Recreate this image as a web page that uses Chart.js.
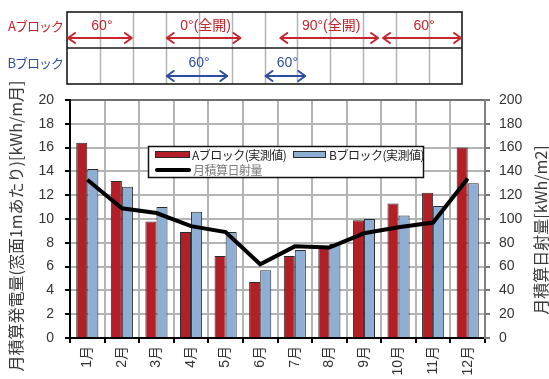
<!DOCTYPE html>
<html>
<head>
<meta charset="utf-8">
<script src="https://cdn.jsdelivr.net/npm/chart.js@4.4.0/dist/chart.umd.min.js"></script>
<style>
  html, body { margin: 0; padding: 0; background: #ffffff; }
  #wrap { width: 549px; height: 379px; }
</style>
</head>
<body>
<div id="wrap"><canvas id="c" width="549" height="379"></canvas></div>
<script>
// Monthly categories
const months = ['1月', '2月', '3月', '4月', '5月', '6月', '7月', '8月', '9月', '10月', '11月', '12月'];

// Monthly generated energy per 1 m of window [kWh/m月]
const blockA = [16.4, 13.2, 9.8, 8.9, 6.9, 4.7, 6.9, 7.6, 9.9, 11.3, 12.2, 16.0];
const blockB = [14.2, 12.7, 11.0, 10.6, 8.9, 5.7, 7.4, 7.9, 10.0, 10.3, 11.1, 13.0];

// Monthly integrated solar irradiation [kWh/m2]
const irradiation = [133, 109, 105, 94, 89, 62, 77, 76, 88, 93, 97, 134];

// Axis ranges
const leftAxis = { min: 0, max: 20, step: 2 };
const rightAxis = { min: 0, max: 200, step: 20 };

// Louver angle periods (month index from .. to) for each block
const periodsA = [
  { from: 0, to: 2, label: '60°' },
  { from: 3, to: 5.3, label: '0°(全開)' },
  { from: 6.45, to: 9.48, label: '90°(全開)' },
  { from: 9.57, to: 12, label: '60°' }
];
const periodsB = [
  { from: 3, to: 4.9, label: '60°' },
  { from: 6, to: 7.27, label: '60°' }
];

const FONT = '"Liberation Sans", Arial, "Noto Sans CJK JP", sans-serif';
const JFONT = '"Noto Sans CJK JP", "Liberation Sans", sans-serif';
const RED = '#B31F27';
const BLUE = '#8FAED3';
const ARROW_RED = '#C8242C';
const ARROW_BLUE = '#2D4E9E';

function drawArrow(ctx, x1, x2, y, color) {
  ctx.save();
  ctx.strokeStyle = color;
  ctx.lineWidth = 2;
  ctx.lineCap = 'round';
  ctx.lineJoin = 'round';
  ctx.beginPath();
  ctx.moveTo(x1, y); ctx.lineTo(x2, y);
  ctx.moveTo(x1 + 7, y - 5); ctx.lineTo(x1, y); ctx.lineTo(x1 + 7, y + 5);
  ctx.moveTo(x2 - 7, y - 5); ctx.lineTo(x2, y); ctx.lineTo(x2 - 7, y + 5);
  ctx.stroke();
  ctx.restore();
}

// Schedule panel above the plot, axis titles and the in-plot legend
const decorPlugin = {
  id: 'decor',
  afterDraw(chart) {
    const ctx = chart.ctx;
    const n = months.length;
    const pL = 67, pR = 462, pT = 12, pM = 48, pB = 84;
    const colW = (pR - pL) / n;

    ctx.save();
    // column lines
    ctx.strokeStyle = '#b4b4b4';
    ctx.lineWidth = 1.5;
    for (let i = 1; i < n; i++) {
      const x = Math.round(pL + i * colW) + 0.5;
      ctx.beginPath(); ctx.moveTo(x, pT); ctx.lineTo(x, pB); ctx.stroke();
    }
    ctx.strokeStyle = '#1a1a1a';
    ctx.lineWidth = 1.6;
    ctx.strokeRect(pL, pT, pR - pL, pB - pT);
    ctx.beginPath(); ctx.moveTo(pL, pM); ctx.lineTo(pR, pM); ctx.stroke();

    // row labels
    ctx.font = '13px ' + JFONT;
    ctx.textAlign = 'right';
    ctx.textBaseline = 'middle';
    ctx.letterSpacing = '-1px';
    ctx.fillStyle = ARROW_RED;
    ctx.fillText('Aブロック', 63, 26);
    ctx.fillStyle = ARROW_BLUE;
    ctx.fillText('Bブロック', 63, 63);
    ctx.letterSpacing = '0px';

    const drawRow = (periods, color, textY, arrowY) => {
      periods.forEach(p => {
        const x1 = pL + p.from * colW;
        const x2 = pL + p.to * colW;
        drawArrow(ctx, x1 + 1, x2 - 1, arrowY, color);
        ctx.fillStyle = color;
        ctx.font = '14px ' + FONT;
        ctx.textAlign = 'center';
        ctx.textBaseline = 'middle';
        ctx.fillText(p.label, (x1 + x2) / 2 + 2, textY);
      });
    };
    drawRow(periodsA, ARROW_RED, 26, 38);
    drawRow(periodsB, ARROW_BLUE, 63, 76);

    // axis titles
    ctx.fillStyle = '#3a3a3a';
    ctx.font = '16px ' + JFONT;
    ctx.textAlign = 'center';
    ctx.textBaseline = 'middle';
    ctx.save();
    ctx.translate(16, 226);
    ctx.rotate(-Math.PI / 2);
    ctx.fillText('月積算発電量(窓面1mあたり)[kWh/m月]', 0, 0);
    ctx.restore();
    ctx.save();
    ctx.translate(541, 230);
    ctx.rotate(-Math.PI / 2);
    ctx.fillText('月積算日射量[kWh/m2]', 0, 0);
    ctx.restore();

    // legend
    const ds = chart.data.datasets;
    const lx = 148.5, ly = 146.5, lw = 275, lh = 31;
    ctx.fillStyle = '#ffffff';
    ctx.fillRect(lx, ly, lw, lh);
    ctx.strokeStyle = '#111';
    ctx.lineWidth = 1.5;
    ctx.strokeRect(lx, ly, lw, lh);

    ctx.lineWidth = 1;
    ctx.strokeStyle = '#2b2b2b';
    ctx.fillStyle = ds[1].backgroundColor;
    ctx.fillRect(155, 151, 34, 6);
    ctx.strokeRect(155.5, 151.5, 34, 6);
    ctx.fillStyle = ds[2].backgroundColor;
    ctx.fillRect(293, 151, 32, 6);
    ctx.strokeRect(293.5, 151.5, 32, 6);
    ctx.strokeStyle = ds[0].borderColor;
    ctx.lineWidth = 4;
    ctx.lineCap = 'round';
    ctx.beginPath(); ctx.moveTo(157, 170); ctx.lineTo(189, 170); ctx.stroke();

    ctx.font = '12px ' + JFONT;
    ctx.textAlign = 'left';
    ctx.textBaseline = 'middle';
    ctx.letterSpacing = '-0.5px';
    ctx.fillStyle = '#222';
    ctx.fillText(ds[1].label, 192, 155);
    ctx.fillText(ds[2].label, 329, 155);
    ctx.fillStyle = '#7a7a7a';
    ctx.fillText(ds[0].label, 193, 170);
    ctx.letterSpacing = '0px';
    ctx.restore();
  }
};

const tickFont = { family: FONT, size: 14 };

new Chart(document.getElementById('c').getContext('2d'), {
  data: {
    labels: months,
    datasets: [
      {
        type: 'line', label: '月積算日射量', data: irradiation, yAxisID: 'y1',
        borderColor: '#000000', borderWidth: 4, pointRadius: 0, tension: 0, order: 0
      },
      {
        type: 'bar', label: 'Aブロック(実測値)', data: blockA, yAxisID: 'y',
        backgroundColor: RED, borderColor: '#2b2b2b', borderWidth: 1,
        categoryPercentage: 0.64, barPercentage: 1, order: 1
      },
      {
        type: 'bar', label: 'Bブロック(実測値)', data: blockB, yAxisID: 'y',
        backgroundColor: BLUE, borderColor: '#2b2b2b', borderWidth: 1,
        categoryPercentage: 0.64, barPercentage: 1, order: 1
      }
    ]
  },
  options: {
    responsive: false,
    animation: false,
    devicePixelRatio: 1,
    layout: { padding: { top: 100, left: 0, right: 0, bottom: 0 } },
    plugins: { legend: { display: false }, tooltip: { enabled: false } },
    scales: {
      x: {
        offset: true,
        grid: { offset: true, color: '#b4b4b4', lineWidth: 2, tickColor: '#000', tickLength: 5 },
        border: { color: '#000', width: 2 },
        ticks: { minRotation: 90, maxRotation: 90, padding: 3, color: '#333', font: tickFont },
        afterFit(s) { s.height = 41; }
      },
      y: {
        position: 'left', min: leftAxis.min, max: leftAxis.max,
        ticks: { stepSize: leftAxis.step, padding: 11, color: '#333', font: tickFont },
        grid: {
          color: c => (c.tick && c.tick.value === leftAxis.max) ? '#707070' : '#b4b4b4',
          lineWidth: 2, tickColor: '#000', tickLength: 5
        },
        border: { color: '#000', width: 2 },
        afterFit(s) { s.width = 70; }
      },
      y1: {
        position: 'right', min: rightAxis.min, max: rightAxis.max,
        ticks: { stepSize: rightAxis.step, padding: 9, color: '#333', font: tickFont },
        grid: { drawOnChartArea: false, tickColor: '#777', tickLength: 5, lineWidth: 2 },
        border: { color: '#808080', width: 2 },
        afterFit(s) { s.width = 64; }
      }
    }
  },
  plugins: [decorPlugin]
});
</script>
</body>
</html>
